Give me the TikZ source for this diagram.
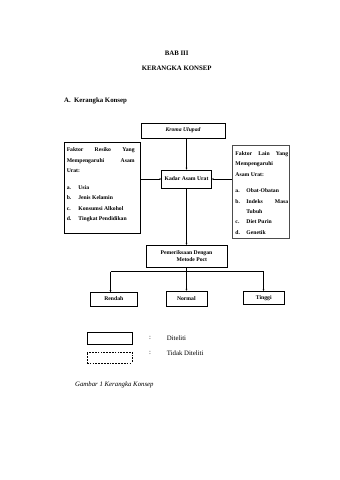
\documentclass[tikz,border=0pt]{standalone}
\usepackage{fontspec}
\setmainfont{Liberation Serif}
\usetikzlibrary{arrows.meta}
\newcommand{\boxfont}{\fontsize{10}{18.3}\selectfont\bfseries}

\begin{document}
\begin{tikzpicture}[x=0.0619cm,y=-0.0619cm,
  box/.style={draw,line width=0.5pt,inner sep=0pt,font=\boxfont,align=center},
  dbox/.style={box,draw=black!70,dash pattern=on 0.8pt off 0.8pt},
  lbl/.style={inner sep=0pt,font=\fontsize{12}{14}\selectfont},
  txt/.style={inner sep=0pt,font=\boxfont,align=left,anchor=north west},
  arr/.style={-{Stealth[length=3.5pt,width=3pt]},line width=0.5pt}]
  \path[use as bounding box,fill=white] (0,0) rectangle (339,480);
  % ---------- heading ----------
  \node[lbl,font=\fontsize{12}{14}\selectfont\bfseries] (BAB) at (176.7,53.3) {BAB III};
  \node[lbl,font=\fontsize{12}{14}\selectfont\bfseries] (KK) at (176.7,68.3) {KERANGKA KONSEP};
  \node[lbl,font=\fontsize{12}{14}\selectfont\bfseries,anchor=west] (SUB) at (64,101)
    {\makebox[0.62cm][l]{A.}Kerangka Konsep};
  % ---------- boxes ----------
  \node[box,minimum width=5.2cm,minimum height=0.93cm] (KU) at (183,130.5) {\itshape Kroma Ulupad};
  \node[box,minimum width=3.1cm,minimum height=1.13cm] (KAU) at (186.5,179) {Kadar Asam Urat};
  \node[box,minimum width=4.7cm,minimum height=5.63cm] (FR) at (102,187.5) {};
  \node[txt] (FRT) at ([xshift=0.17cm,yshift=-0.37cm]FR.north west)
    {\makebox[4.2cm][s]{Faktor Resiko Yang}\\
     \makebox[4.2cm][s]{Mempengaruhi Asam}\\
     Urat:\\[0.38cm]
     \makebox[0.72cm][l]{a.}Usia\\
     \makebox[0.72cm][l]{b.}Jenis Kelamin\\
     \makebox[0.72cm][l]{c.}Konsumsi Alkohol\\
     \makebox[0.72cm][l]{d.}Tingkat Pendidikan};
  \node[dbox,minimum width=3.53cm,minimum height=5.78cm] (FL) at (260.8,191.7) {};
  \node[txt] (FLT) at ([xshift=0.2cm,yshift=-0.4cm]FL.north west)
    {\makebox[3.26cm][s]{Faktor Lain Yang}\\
     Mempengaruhi\\
     Asam Urat:\\[0.38cm]
     \makebox[0.68cm][l]{a.}Obat-Obatan\\
     \makebox[0.68cm][l]{b.}\makebox[2.58cm][s]{Indeks Masa}\\
     \hspace*{0.68cm}Tubuh\\
     \makebox[0.68cm][l]{c.}Diet Purin\\
     \makebox[0.68cm][l]{d.}Genetik};
  \node[box,align=left,minimum width=5.03cm,minimum height=1.38cm] (PM) at (186.5,256.2)
    {Pemeriksaan Dengan\\[-6pt]\hspace*{0.99cm}Metode Poct};
  \node[box,minimum width=2.91cm,minimum height=0.83cm] (RD) at (113.8,299) {Rendah};
  \node[box,minimum width=2.52cm,minimum height=0.91cm] (NM) at (186.3,298.3) {Normal};
  \node[box,minimum width=2.54cm,minimum height=0.82cm] (TG) at (263.8,297.7) {Tinggi};
  % ---------- arrows ----------
  \draw[arr] (KU.south -| KAU.north) -- (KAU.north);
  \draw[arr] (FR.east |- KAU.west) -- (KAU.west);
  \draw[arr] (FL.west |- KAU.east) -- (KAU.east);
  \draw[arr] (KAU.south) -- (PM.north);
  \coordinate (JL) at (110.5,271.5);
  \coordinate (JR) at (263.5,271.5);
  \draw (JL) -- (JR);
  \draw[arr] (PM.south) -- (PM.south |- NM.north);
  \draw[arr] (JL) -- (JL |- RD.north);
  \draw[arr] (JR) -- (JR |- TG.north);
  % ---------- legend ----------
  \node[box,minimum width=2.77cm,minimum height=0.76cm] (LG1) at (109.3,337.8) {};
  \node[box,dash pattern=on 3pt off 2pt,minimum width=2.77cm,minimum height=0.68cm] (LG2) at (109.3,357.2) {};
  \node[lbl] (C1) at (150,337.7) {:};
  \node[lbl] (C2) at (150,353.3) {:};
  \node[lbl,anchor=west] (D1) at (166.7,337.7) {Diteliti};
  \node[lbl,anchor=west] (D2) at (166.7,353.3) {Tidak Diteliti};
  \node[lbl,anchor=west,font=\fontsize{12}{14}\selectfont\itshape] (CAP) at (75,385) {Gambar 1 Kerangka Konsep};
\end{tikzpicture}
\end{document}
